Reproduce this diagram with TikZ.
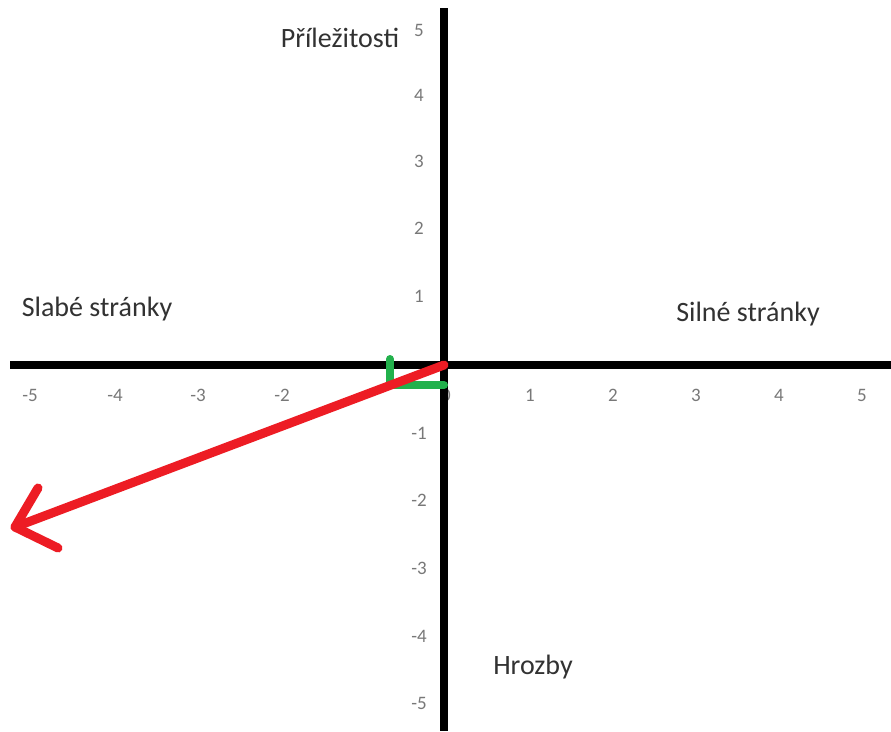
\documentclass[tikz,border=0pt]{standalone}
\usepackage{fontspec}
\setmainfont{Carlito}
\definecolor{arrowred}{RGB}{237,28,36}
\definecolor{markgreen}{RGB}{34,177,76}
\definecolor{tickgray}{RGB}{120,120,120}
\definecolor{labelgray}{RGB}{50,50,50}
\begin{document}
\begin{tikzpicture}[x=1pt,y=-1pt,
  axisline/.style={line width=8pt,black},
  ticklbl/.style={text=tickgray,font=\fontsize{19}{19}\selectfont,inner sep=0pt},
  quadlbl/.style={text=labelgray,font=\fontsize{28}{28}\selectfont,inner sep=0pt},
  redline/.style={line width=9pt,arrowred,line cap=round,line join=round},
  greenline/.style={line width=8pt,markgreen,line cap=round,line join=round}]
\useasboundingbox[fill=white] (0,0) rectangle (891,731);
% tick labels (under the drawing)
\foreach \v/\px in {-5/30,-4/115,-3/198,-2/282,1/530,2/613,3/696,4/779,5/862}
  \node[ticklbl] (xt\v) at (\px,395) {\v};
\node[ticklbl] (xt0) at (446,395) {0};
\foreach \v/\py in {5/30,4/95,3/161,2/228,1/296,-1/433,-2/500,-3/568,-4/636,-5/703}
  \node[ticklbl] (yt\v) at (419,\py) {\v};
% axes
\coordinate (O) at (444,365);
\coordinate (xl) at (10,365);
\coordinate (xr) at (891,365);
\coordinate (yt) at (444,8);
\coordinate (yb) at (444,731);
\draw[axisline] (xl) -- (xr);
\draw[axisline] (yt) -- (yb);
% quadrant labels
\node[quadlbl] (opp) at (340,38) {Příležitosti};
\node[quadlbl] (weak) at (97,309) {Slabé stránky};
\node[quadlbl] (strong) at (748,314) {Silné stránky};
\node[quadlbl] (threat) at (533,667) {Hrozby};
% green mark
\coordinate (g1) at (390,359);
\coordinate (g2) at (390,385);
\coordinate (g3) at (444,385);
\draw[greenline] (g1) -- (g2) -- (g3);
% red arrow
\coordinate (tip) at (15,527);
\coordinate (h1) at (38,488);
\coordinate (h2) at (58,548);
\draw[redline] (O) -- (tip);
\draw[redline] (h1) -- (tip) -- (h2);
\end{tikzpicture}
\end{document}
